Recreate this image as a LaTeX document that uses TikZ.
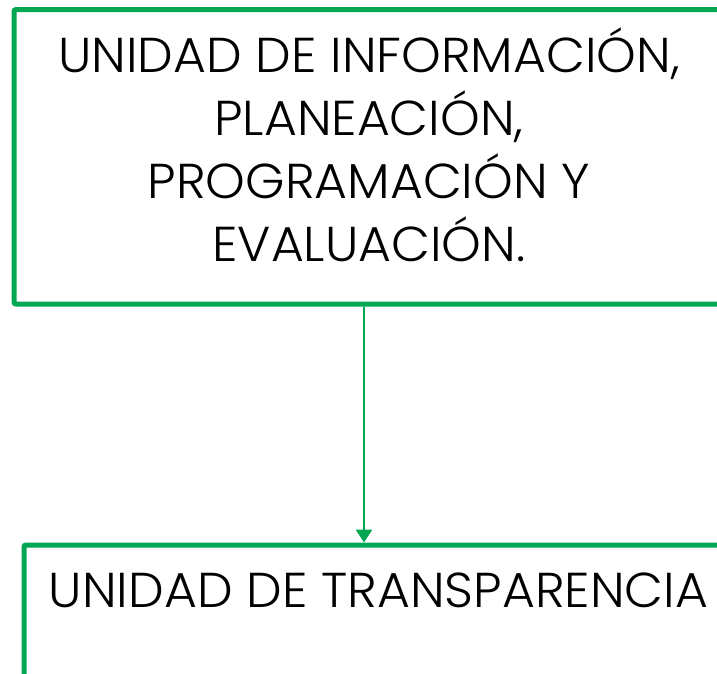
\documentclass[tikz,border=0pt]{standalone}
\usepackage{fontspec}
\setmainfont{Poppins Light}[FakeStretch=1.03]
\usetikzlibrary{arrows.meta}
\definecolor{grn}{RGB}{0,166,81}
\tikzset{
  box/.style={draw=grn, line width=5pt, rounded corners=2pt, inner sep=0pt},
  lbl/.style={align=center, inner sep=0pt, font=\fontsize{49}{63}\selectfont},
  conn/.style={draw=grn, line width=2.8pt, -{Triangle[width=16pt,length=13pt]}}
}
\begin{document}
\begin{tikzpicture}[x=1pt,y=1pt]
\useasboundingbox (0,0) rectangle (717,-673);
\node[box, minimum width=708pt, minimum height=294.5pt] (tb) at (368,-156.75) {};
\node[lbl, anchor=base] (tt) at (369,-261) {UNIDAD DE INFORMACIÓN,\\PLANEACIÓN,\\PROGRAMACIÓN Y\\EVALUACIÓN.};
\node[box, minimum width=708pt, minimum height=255pt] (bb) at (378,-672.5) {};
\node[lbl, anchor=base] (bt) at (378.5,-607) {UNIDAD DE TRANSPARENCIA};
\coordinate (ax) at (364,0);
\draw[conn] (tb.south -| ax) -- (bb.north -| ax);
\end{tikzpicture}
\end{document}
